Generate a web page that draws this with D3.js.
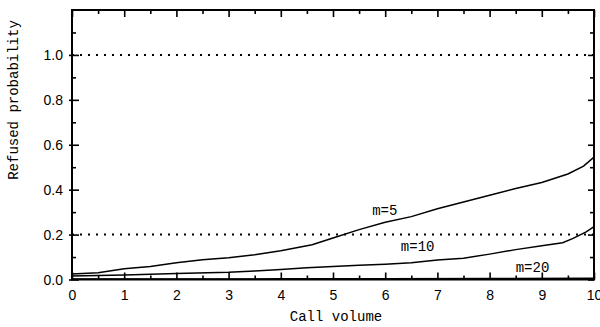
<!DOCTYPE html>
<html>
<head>
<meta charset="utf-8">
<script src="https://cdn.jsdelivr.net/npm/d3@7"></script>
<style>
    body { margin: 0; background: #fff; }
    .axis text { font-family: "Liberation Sans", Arial, sans-serif; font-size: 14px; fill: #000; }
    .axis line { stroke: #000; stroke-width: 1.6; }
    .title, .curve-label { font-family: "Liberation Mono", monospace; font-size: 14px; fill: #000; }
</style>
</head>
<body>
<div id="refused-chart"></div>
<script>

// call volume steps and refused probability per channel count m
var callVolume5 = [0, 0.5, 1, 1.5, 2, 2.5, 3, 3.5, 4, 4.6, 5, 5.5, 6, 6.5, 7, 7.5, 8, 8.5, 9, 9.5, 9.8, 10];
var refused5 = [0.025, 0.03, 0.048, 0.058, 0.075, 0.088, 0.097, 0.11, 0.128, 0.155, 0.185, 0.222, 0.255, 0.28, 0.315, 0.345, 0.375, 0.405, 0.432, 0.47, 0.505, 0.545];

var callVolume10 = [0, 1, 2, 3, 3.5, 4, 4.5, 5, 5.5, 6, 6.5, 7, 7.5, 8, 8.5, 9, 9.4, 9.6, 9.85, 10];
var refused10 = [0.016, 0.02, 0.027, 0.032, 0.038, 0.044, 0.052, 0.058, 0.063, 0.068, 0.075, 0.087, 0.095, 0.113, 0.133, 0.15, 0.164, 0.183, 0.212, 0.235];

var callVolume20 = [0, 2, 4, 6, 8, 10];
var refused20 = [0.002, 0.002, 0.003, 0.003, 0.004, 0.006];

var referenceLevels = [1.0, 0.2];

var xTicks = [0, 1, 2, 3, 4, 5, 6, 7, 8, 9, 10];
var xMinorTicks = [0.5, 1.5, 2.5, 3.5, 4.5, 5.5, 6.5, 7.5, 8.5, 9.5];
var yTicks = [0, 0.2, 0.4, 0.6, 0.8, 1.0];
var yMinorTicks = [0.1, 0.3, 0.5, 0.7, 0.9, 1.1];

var curveLabels = ["m=5", "m=10", "m=20"];
var labelPositions = [[5.75, 0.288], [6.3, 0.127], [8.5, 0.033]];   // [call volume, probability] where the text starts

var margin = {top: 10, right: 6, bottom: 47.5, left: 72};
var width = 600 - margin.left - margin.right;
var height = 327 - margin.top - margin.bottom;

var svg = d3.select("#refused-chart").append("svg")
    .attr("width", 600)
    .attr("height", 327)
    .append("g")
    .attr("transform", "translate(" + margin.left + "," + margin.top + ")");

//-----scales------
var x = d3.scaleLinear().domain([0, 10]).range([0, width]);
var y = d3.scaleLinear().domain([0, 1.2]).range([height, 0]);

//-----axes, ticks pointing inward------
var xAxis = d3.axisBottom(x).tickValues(xTicks).tickSizeInner(-7).tickSizeOuter(0).tickFormat(d3.format("d"));
var xMinor = d3.axisBottom(x).tickValues(xMinorTicks).tickSizeInner(-4).tickSizeOuter(0).tickFormat("");
var xTop = d3.axisTop(x).tickValues(xTicks).tickSizeInner(-7).tickSizeOuter(0).tickFormat("");
var xTopMinor = d3.axisTop(x).tickValues(xMinorTicks).tickSizeInner(-4).tickSizeOuter(0).tickFormat("");

var yAxis = d3.axisLeft(y).tickValues(yTicks).tickSizeInner(-7).tickSizeOuter(0).tickFormat(d3.format(".1f"));
var yMinor = d3.axisLeft(y).tickValues(yMinorTicks).tickSizeInner(-4).tickSizeOuter(0).tickFormat("");
var yRight = d3.axisRight(y).tickValues(yTicks).tickSizeInner(-6).tickSizeOuter(0).tickFormat("");
var yRightMinor = d3.axisRight(y).tickValues(yMinorTicks).tickSizeInner(-4).tickSizeOuter(0).tickFormat("");

function addAxis(axis, transform) {
    var g = svg.append("g")
        .attr("class", "axis")
        .attr("transform", transform)
        .call(axis);
    g.select(".domain").remove();
    return g;
}

var gx = addAxis(xAxis, "translate(0," + height + ")");
gx.selectAll("text").attr("y", 20.5).attr("dy", 0);
addAxis(xMinor, "translate(0," + height + ")");
addAxis(xTop, "translate(0,0)");
addAxis(xTopMinor, "translate(0,0)");

var gy = addAxis(yAxis, "translate(0,0)");
gy.selectAll("line").attr("x1", -3);   // major ticks poke a little outside
gy.selectAll("text").attr("x", -9).attr("dy", "0.36em");
addAxis(yMinor, "translate(0,0)");
addAxis(yRight, "translate(" + width + ",0)");
addAxis(yRightMinor, "translate(" + width + ",0)");

//-----dotted reference lines------
svg.selectAll(".ref-line")
    .data(referenceLevels)
    .enter()
    .append("line")
    .attr("class", "ref-line")
    .attr("x1", x(0))
    .attr("x2", x(10))
    .attr("y1", function(d) { return y(d); })
    .attr("y2", function(d) { return y(d); })
    .style("stroke", "#000")
    .style("stroke-width", 2)
    .style("stroke-dasharray", "2,6");

//-----curves------
var series = [
    {xs: callVolume5, ys: refused5},
    {xs: callVolume10, ys: refused10},
    {xs: callVolume20, ys: refused20}
];

var line = d3.line()
    .x(function(d) { return x(d[0]); })
    .y(function(d) { return y(d[1]); });

svg.selectAll(".curve")
    .data(series)
    .enter()
    .append("path")
    .attr("class", "curve")
    .attr("d", function(s) { return line(d3.zip(s.xs, s.ys)); })
    .style("fill", "none")
    .style("stroke", "#000")
    .style("stroke-width", 1.5);

svg.selectAll(".curve-label")
    .data(curveLabels)
    .enter()
    .append("text")
    .attr("class", "curve-label")
    .attr("x", function(d, i) { return x(labelPositions[i][0]); })
    .attr("y", function(d, i) { return y(labelPositions[i][1]); })
    .text(function(d) { return d; });

//-----frame------
svg.append("rect")
    .attr("width", width)
    .attr("height", height)
    .style("fill", "none")
    .style("stroke", "#000")
    .style("stroke-width", 2);

//-----axis titles------
svg.append("text")
    .attr("class", "title")
    .attr("text-anchor", "middle")
    .attr("x", width / 2 + 3)
    .attr("y", height + 41)
    .text("Call volume");

svg.append("text")
    .attr("class", "title")
    .attr("text-anchor", "middle")
    .attr("transform", "translate(" + (-54) + "," + 90 + ") rotate(-90)")
    .text("Refused probability");

</script>
</body>
</html>
